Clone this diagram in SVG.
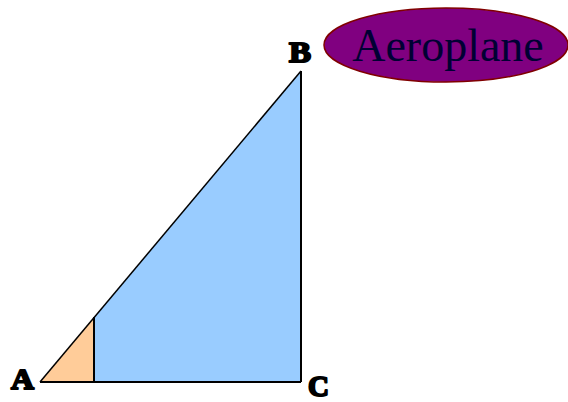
<svg xmlns="http://www.w3.org/2000/svg" width="568" height="402" viewBox="0 0 568 402">
<style>
.lbl{font-family:"Liberation Serif","Times New Roman",serif;font-weight:bold;font-size:29px;fill:#000;stroke:#000;stroke-width:2;stroke-linejoin:round}
.edge{stroke:#000;stroke-width:2;fill:none}
</style>
<rect width="568" height="402" fill="#fff"/>
<g id="triangle">
<polygon points="40,382 301,382 301,71" fill="#99ccff" stroke="none"/>
<polygon points="40,382 94,382 94,317" fill="#ffcc99" stroke="none"/>
</g>
<g id="connectors">
<line class="edge" x1="40" y1="382" x2="301" y2="382"/>
<line class="edge" x1="301" y1="382" x2="301" y2="71"/>
<line x1="40" y1="382" x2="301" y2="71" stroke="#000" stroke-width="1.5"/>
<line class="edge" x1="94" y1="382" x2="94" y2="317"/>
</g>
<g id="A"><text class="lbl" x="11" y="389" textLength="23" lengthAdjust="spacingAndGlyphs">A</text></g>
<g id="B"><text class="lbl" x="289" y="62" textLength="22" lengthAdjust="spacingAndGlyphs">B</text></g>
<g id="C"><text class="lbl" x="308" y="396" textLength="21" lengthAdjust="spacingAndGlyphs">C</text></g>
<g id="aeroplane">
<ellipse cx="446" cy="45" rx="122" ry="37" fill="#800080" stroke="#800000" stroke-width="1.5"/>
<text x="448" y="61" text-anchor="middle" font-family="Liberation Serif,'Times New Roman',serif" font-size="46" fill="#000033">Aeroplane</text>
</g>
</svg>
